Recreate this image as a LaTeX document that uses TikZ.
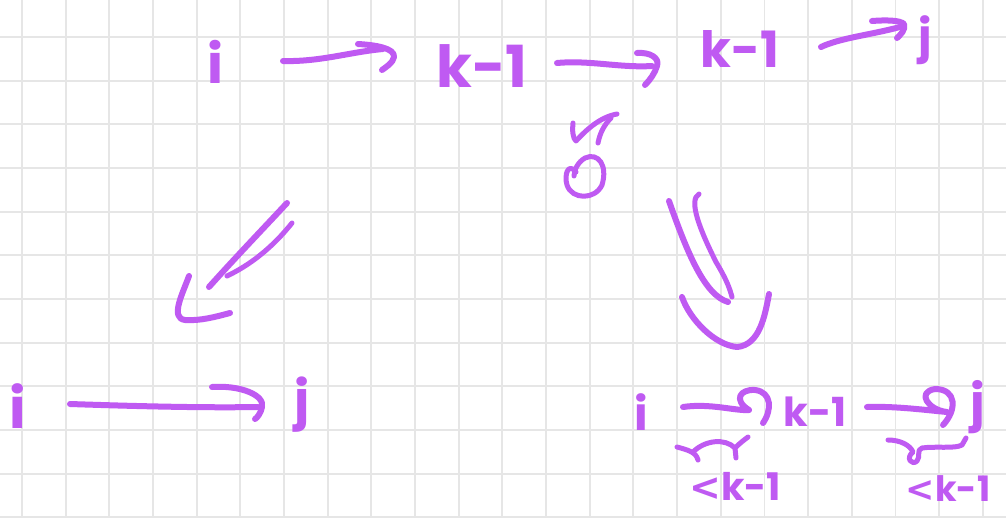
\documentclass[tikz,border=0pt]{standalone}
\usepackage{fontspec}
\setmainfont{Poppins}
\newfontfamily\symfont{DejaVu Sans}
\definecolor{ink}{HTML}{BF5AF2}
\definecolor{gridgray}{HTML}{E6E6E6}
\tikzset{
  gridline/.style={draw=gridgray, line width=1.8pt},
  stroke/.style={draw=ink, line width=6pt, line cap=round, line join=round},
  thinstroke/.style={draw=ink, line width=5pt, line cap=round, line join=round},
  lbl/.style={text=ink, inner sep=0pt, anchor=base, font=\bfseries},
}
\newcommand{\fs}[1]{\fontsize{#1}{#1}\selectfont\bfseries}
\newcommand{\bigless}{{\symfont\bfseries<}}
\begin{document}
\begin{tikzpicture}[x=1pt,y=-1pt]
\useasboundingbox (0,0) rectangle (1006,517);
\fill[white] (0,0) rectangle (1006,517);
% squared paper
\foreach \k in {0,...,22} \draw[gridline] ({22+43.67*\k},0) -- ({22+43.67*\k},517);
\foreach \k in {-1,...,11} \draw[gridline] (0,{37+43.67*\k}) -- (1006,{37+43.67*\k});

% ---- top row: i -> k-1 -> k-1 -> j
\node[lbl, font=\fs{54}] (ti)  at (215,83) {i};
\node[lbl, font=\fs{58}] (tk1) at (482,87) {k-1};
\node[lbl, font=\fs{50}] (tk2) at (740,67) {k-1};
\node[lbl, font=\fs{46}] (tj)  at (925,52) {j};

\coordinate (a1s) at (283,61); \coordinate (a1e) at (383,49);
\coordinate (a2s) at (557,63); \coordinate (a2e) at (652,66);
\coordinate (a3s) at (821,47); \coordinate (a3e) at (900,27);

\draw[stroke] (a1s) .. controls (320,62) and (350,52) .. (a1e);
\draw[stroke] (358,44) .. controls (375,45) and (395,48) .. (394,57) .. controls (393,63) and (386,67) .. (382,70);
\draw[stroke] (a2s) .. controls (590,60) and (620,68) .. (a2e);
\draw[stroke] (637,53) .. controls (650,52) and (660,58) .. (657,66) .. controls (655,73) and (650,80) .. (645,85);
\draw[stroke] (a3s) .. controls (840,38) and (870,35) .. (a3e);
\draw[stroke] (872,21) .. controls (885,20) and (900,20) .. (904,24) .. controls (906,30) and (900,35) .. (897,38);

% mark under the middle arrow
\draw[thinstroke] (573,123) .. controls (572,130) and (573,139) .. (576,141) .. controls (586,130) and (600,117) .. (617,114);
\draw[thinstroke] (598,143) .. controls (600,133) and (604,125) .. (611,118);
\draw[thinstroke] (576,172) .. controls (568,162) and (564,175) .. (567,185) .. controls (572,200) and (595,200) .. (602,185) .. controls (608,165) and (598,152) .. (585,158) .. controls (578,162) and (574,170) .. (574,176);

% ---- double arrow to the left case
\draw[stroke] (287,203) .. controls (260,232) and (235,258) .. (209,287);
\draw[thinstroke] (292,223) .. controls (272,248) and (250,265) .. (227,276);
\draw[stroke] (189,276) .. controls (182,295) and (170,318) .. (185,320) .. controls (200,321) and (215,317) .. (230,313);

% ---- double arrow to the right case
\draw[stroke] (669,201) .. controls (688,255) and (705,295) .. (728,302);
\draw[thinstroke] (699,194) .. controls (688,200) and (700,230) .. (716,262) .. controls (728,282) and (730,290) .. (732,297);
\draw[stroke] (682,297) .. controls (690,320) and (715,345) .. (737,347) .. controls (760,345) and (765,315) .. (769,294);

% ---- bottom left: i -> j
\node[lbl, font=\fs{56}] (li) at (18,428) {i};
\node[lbl, font=\fs{52}] (lj) at (302,418) {j};
\coordinate (bls) at (70,404); \coordinate (ble) at (258,407);
\draw[stroke] (bls) .. controls (130,406) and (200,408) .. (ble);
\draw[stroke] (212,387) .. controls (240,385) and (265,395) .. (262,407) .. controls (261,413) and (257,418) .. (255,419);

% ---- bottom right: i -> k-1 -> j
\node[lbl, font=\fs{46}] (ri)  at (641,430) {i};
\node[lbl, font=\fs{40}] (rk)  at (815,426) {k-1};
\node[lbl, font=\fs{50}] (rj)  at (978,420) {j};
\node[lbl, font=\fs{38}] (lt1) at (735,500) {\bigless k-1};
\node[lbl, font=\fs{35}] (lt2) at (948,501) {\bigless k-1};

\coordinate (r1s) at (683,407); \coordinate (r1e) at (749,410);
\coordinate (r2s) at (867,407); \coordinate (r2e) at (947,412);
\draw[stroke] (r1s) .. controls (710,403) and (735,411) .. (r1e) .. controls (733,400) and (740,389) .. (755,390) .. controls (772,392) and (772,410) .. (763,423);
\draw[stroke] (r2s) .. controls (895,406) and (925,410) .. (r2e) .. controls (928,410) and (916,392) .. (935,389) .. controls (957,389) and (957,410) .. (943,425);

% braces under the two parts
\draw[thinstroke] (677,447) .. controls (688,450) and (696,452) .. (698,460);
\draw[thinstroke] (693,452) .. controls (705,440) and (725,438) .. (735,448) -- (736,458);
\draw[thinstroke] (735,448) .. controls (740,443) and (744,440) .. (748,437);
\draw[thinstroke] (888,440) .. controls (900,440) and (910,445) .. (913,452) .. controls (905,458) and (912,466) .. (917,461) .. controls (921,456) and (916,450) .. (922,448) .. controls (935,446) and (955,449) .. (962,445) -- (966,438);
\end{tikzpicture}
\end{document}
